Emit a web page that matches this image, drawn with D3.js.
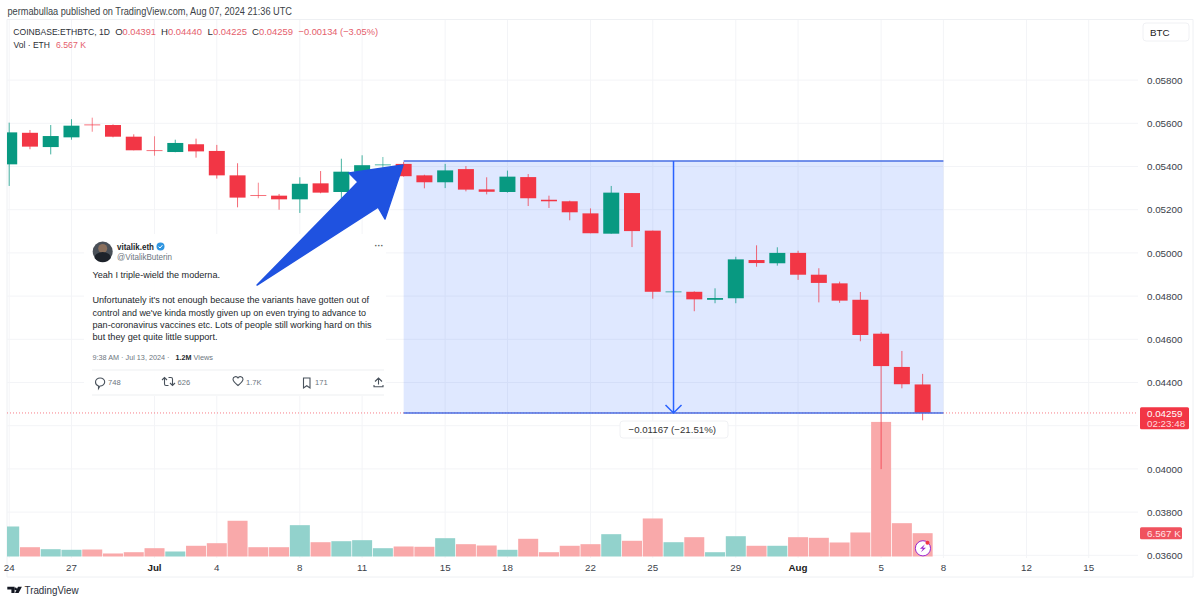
<!DOCTYPE html>
<html><head><meta charset="utf-8">
<script src="https://cdn.jsdelivr.net/npm/d3@7"></script>
<style>
html,body{margin:0;padding:0;background:#fff;overflow:hidden}
svg{display:block}
text{font-family:"Liberation Sans",Arimo,sans-serif}
</style></head><body>
<svg id="c" width="1200" height="603"></svg>
<script>
// ---- data: one entry per daily candle, starting 24 Jun 2024 (prices in BTC)
const startDate = "2024-06-24";
const opens  = [.05410,.05556,.05490,.05535,.05595,.05592,.05538,.05476,.05467,.05503,.05472,.05359,.05268,.05265,.05248,.05322,.05282,.05375,.05406,.05412,.05359,.05327,.05388,.05294,.05282,.05351,.05246,.05239,.05183,.05089,.05277,.05103,.04820,.04820,.04783,.04790,.04967,.04952,.05000,.04899,.04859,.04783,.04626,.04472,.04391];
const highs  = [.05603,.05569,.05592,.05619,.05626,.05595,.05549,.05540,.05524,.05529,.05500,.05415,.05325,.05273,.05350,.05379,.05436,.05452,.05444,.05421,.05362,.05412,.05402,.05350,.05381,.05365,.05265,.05242,.05206,.05310,.05277,.05103,.04823,.04822,.04836,.04982,.05035,.05026,.05010,.04929,.04867,.04819,.04634,.04546,.04440];
const lows   = [.05310,.05480,.05456,.05524,.05561,.05535,.05475,.05450,.05466,.05441,.05344,.05211,.05253,.05200,.05185,.05276,.05245,.05337,.05361,.05353,.05299,.05300,.05285,.05271,.05279,.05217,.05208,.05151,.05091,.05089,.05027,.04788,.04820,.04730,.04767,.04767,.04936,.04941,.04875,.04771,.04769,.04591,.03999,.04373,.04225];
const closes = [.05558,.05492,.05541,.05589,.05593,.05538,.05475,.05475,.05509,.05470,.05359,.05256,.05266,.05248,.05320,.05279,.05376,.05406,.05410,.05355,.05327,.05382,.05293,.05283,.05353,.05253,.05239,.05188,.05091,.05279,.05101,.04820,.04822,.04785,.04791,.04970,.04953,.05000,.04899,.04861,.04779,.04620,.04476,.04392,.04259];
const volumes= [8.46,2.62,2.06,1.89,1.97,0.85,1.21,2.34,1.41,3.02,3.75,10.07,2.62,2.62,8.83,4.03,4.31,4.60,2.34,2.82,2.74,5.16,3.47,3.10,1.89,4.99,1.21,3.02,3.47,6.29,4.43,10.72,4.03,5.44,1.21,5.72,3.02,3.02,5.44,5.27,3.95,6.77,37.93,9.39,6.567];
const priceTicks = [.058,.056,.054,.052,.05,.048,.046,.044,.042,.04,.038,.036];
const priceTickLabels = ["0.05800","0.05600","0.05400","0.05200","0.05000","0.04800","0.04600","0.04400",null,"0.04000","0.03800","0.03600"];
const dayTicks = [0,3,7,10,14,17,21,24,28,31,35,38,42,45,49,52];
const dayLabels = ["24","27","Jul","4","8","11","15","18","22","25","29","Aug","5","8","12","15"];
const measure = {fromDay:19, toDay:45, top:.05426, bottom:.04259, text:"−0.01167 (−21.51%)"};
const arrowDays   = [11.94,16.80,16.37,18.97,18.10,17.77];
const arrowPrices = [.04851,.05328,.05370,.05407,.05157,.05212];

const svg = d3.select("#c");
const green="#089981", red="#f23645", blue="#2962ff";
const x = d3.scaleLinear().domain([0,1]).range([9.2,29.96]);
const y = d3.scaleLinear().domain([.054,.052]).range([166.5,209.7]);
const v = d3.scaleLinear().domain([0,6.567]).range([556.5,533.2]);
const W=1138, B=558;

svg.append("defs").append("clipPath").attr("id","plot").append("rect").attr("x",7).attr("y",20).attr("width",W-7).attr("height",B-20);

// frame
const frame = svg.append("g").attr("stroke","#eef0f3").attr("fill","none");
frame.append("path").attr("d",`M7,19.5H1193V577H7Z`);

// grid
const grid = svg.append("g").attr("stroke","#f3f4f7").attr("stroke-width",1);
grid.selectAll("line.h").data(priceTicks).join("line").attr("x1",7).attr("x2",W)
  .attr("y1",d=>y(d)).attr("y2",d=>y(d));
grid.selectAll("line.v").data(dayTicks.filter(d=>x(d)<W)).join("line").attr("y1",20).attr("y2",B)
  .attr("x1",d=>x(d)).attr("x2",d=>x(d));

// price axis
svg.append("g").selectAll("text").data(priceTicks.map((t,i)=>({t,l:priceTickLabels[i]})).filter(d=>d.l))
  .join("text").attr("x",1147).attr("y",d=>y(d.t)+3.6).attr("font-size",9.8).attr("fill","#3a3e49").text(d=>d.l);
// time axis
svg.append("g").selectAll("text").data(dayTicks.map((t,i)=>({t,l:dayLabels[i]})))
  .join("text").attr("x",d=>x(d.t)).attr("y",571).attr("text-anchor","middle").attr("font-size",9.8)
  .attr("font-weight",d=>/[A-Z]/.test(d.l)?700:400).attr("fill",d=>/[A-Z]/.test(d.l)?"#222":"#3a3e49").text(d=>d.l);

const plot = svg.append("g").attr("clip-path","url(#plot)");
const idx = d3.range(opens.length);
const up = i=>closes[i]>=opens[i];

// measure band
plot.append("rect").attr("x",x(measure.fromDay)).attr("width",x(measure.toDay)-x(measure.fromDay))
  .attr("y",y(measure.top)).attr("height",y(measure.bottom)-y(measure.top)).attr("fill","#2962ff").attr("fill-opacity",.15);

// volume
plot.append("g").selectAll("rect").data(idx).join("rect")
  .attr("x",i=>x(i)-10).attr("width",20)
  .attr("y",i=>v(volumes[i])).attr("height",i=>v(0)-v(volumes[i]))
  .attr("fill",i=>up(i)?"#92d2cc":"#f9a9aa");

// last price line
svg.append("line").attr("x1",7).attr("x2",W).attr("y1",y(closes[44])).attr("y2",y(closes[44]))
  .attr("stroke",red).attr("stroke-opacity",.65).attr("stroke-dasharray","1 2");

// candles
const dojiBody = i=>Math.abs(y(opens[i])-y(closes[i]))<1;
plot.append("g").selectAll("line").data(idx).join("line")
  .attr("x1",i=>x(i)).attr("x2",i=>x(i)).attr("y1",i=>y(highs[i])).attr("y2",i=>y(lows[i]))
  .attr("stroke",i=>up(i)?green:red).attr("stroke-width",1).attr("stroke-opacity",i=>dojiBody(i)?.6:.75);
plot.append("g").selectAll("rect").data(idx).join("rect")
  .attr("x",i=>x(i)-8).attr("width",16)
  .attr("y",i=>y(Math.max(opens[i],closes[i])))
  .attr("height",i=>Math.max(1,Math.abs(y(opens[i])-y(closes[i]))))
  .attr("fill",i=>up(i)?green:red).attr("fill-opacity",i=>dojiBody(i)?.7:1);

// measure lines
const m = svg.append("g").attr("stroke",blue).attr("fill","none");
const mx0=x(measure.fromDay), mx1=x(measure.toDay), mMid=x((measure.fromDay+measure.toDay)/2), mT=y(measure.top), mB=y(measure.bottom);
m.append("path").attr("d",`M${mx0},${mT}H${mx1}M${mx0},${mB}H${mx1}`).attr("stroke-width",1.5).attr("stroke","#4a6fe3");
m.append("path").attr("d",`M${mMid},${mT}V${mB}M${mMid-8},${mB-8}L${mMid},${mB}L${mMid+8},${mB-8}`).attr("stroke-width",1.5);

// tweet card
const T = svg.append("g");
T.append("rect").attr("x",84).attr("y",234).attr("width",302).attr("height",162).attr("fill","#fff").attr("fill-opacity",.92);
T.append("circle").attr("cx",102.7).attr("cy",251.5).attr("r",10).attr("fill","#4a5058");
T.append("circle").attr("cx",102.7).attr("cy",248.5).attr("r",4.5).attr("fill","#8a6f5c");
T.append("path").attr("d","M94.5,258a8.2,6 0 0 1 16.4,0a10,10 0 0 1 -16.4,0Z").attr("fill","#1d222a");
const fit=(e,len)=>e.attr("textLength",len).attr("lengthAdjust","spacingAndGlyphs");
const tt=(x0,y0,s,o={})=>{const e=T.append("text").attr("x",x0).attr("y",y0).attr("font-size",o.size||8.8)
  .attr("font-weight",o.w||400).attr("fill",o.c||"#23272c").attr("text-anchor",o.a||"start").text(s);
  if(o.len)fit(e,o.len);return e;};
tt(117,250,"vitalik.eth",{w:700,size:8.8,len:37});
T.append("circle").attr("cx",160.5).attr("cy",246.5).attr("r",4).attr("fill","#2f95e0");
T.append("path").attr("d","M158.6,246.6l1.4,1.4l2.4,-2.8").attr("stroke","#fff").attr("fill","none");
tt(117,260,"@VitalikButerin",{c:"#6d7680",size:8.4,len:55});
tt(379,248.5,"···",{c:"#555",a:"middle",w:700,size:9});
const lines=[[278,"Yeah I triple-wield the moderna.",127.5],[303,"Unfortunately it's not enough because the variants have gotten out of",276.5],[315.5,"control and we've kinda mostly given up on even trying to advance to",273.5],[328,"pan-coronavirus vaccines etc. Lots of people still working hard on this",279],[340,"but they get quite little support.",125]];
lines.forEach(l=>tt(92.5,l[0],l[1],{len:l[2]}));
tt(92.5,360,"9:38 AM · Jul 13, 2024 ·",{c:"#6d7680",size:8,len:77});
tt(175.5,360,"1.2M",{w:700,size:8,len:16});
tt(193.5,360,"Views",{c:"#6d7680",size:8,len:19.5});
T.append("path").attr("d","M92,370H384M92,395H384").attr("stroke","#edeff1").attr("fill","none");
const ic=T.append("g").attr("fill","none").attr("stroke","#49525c").attr("stroke-width",1.1);
ic.append("path").attr("d","M95.5,382a4.6,4 0 1 1 4.5,4l-1.5,2.5v-2.6a4.5,4 0 0 1 -3,-3.9Z");
ic.append("path").attr("d","M162,380l2.5,-2.5l2.5,2.5M164.5,378v6a1.5,1.5 0 0 0 1.5,1.5h2.5M168.5,377.5h2.5a1.5,1.5 0 0 1 1.5,1.5v6M170,383l2.5,2.5l2.5,-2.5");
ic.append("path").attr("d","M238,385.5c-3,-2.5 -5,-4 -5,-6.2a2.7,2.7 0 0 1 5,-1.4a2.7,2.7 0 0 1 5,1.4c0,2.2 -2,3.7 -5,6.2Z");
ic.append("path").attr("d","M303.5,378h6.5v10l-3.25,-2.3l-3.25,2.3Z");
ic.append("path").attr("d","M375,381.5l3.5,-3.5l3.5,3.5M378.5,378v6.5M374,385v1.8h9v-1.8");
[[108,"748"],[177.5,"626"],[246,"1.7K"],[315,"171"]].forEach(d=>tt(d[0],385,d[1],{c:"#6d7680",size:7.6}));

// hand-drawn arrow, anchored in chart space
const arrowLine = d3.line().x(d=>x(d)).y((d,i)=>y(arrowPrices[i]));
svg.append("path").attr("d",arrowLine(arrowDays)+"Z").attr("fill","#1f52e0").attr("stroke","#1f52e0").attr("stroke-width",1.5).attr("stroke-linejoin","round");

// measure label
svg.append("rect").attr("x",620).attr("y",421).attr("width",108).attr("height",17).attr("rx",3).attr("fill","#fff")
  .attr("stroke","#f0f1f4");
svg.append("text").attr("x",628.5).attr("y",432.7).attr("font-size",9.8).attr("fill","#333").attr("textLength",87.5).attr("lengthAdjust","spacingAndGlyphs").text(measure.text);

// header
const hd=(x0,y0,s,c,len,fs)=>{const e=svg.append("text").attr("x",x0).attr("y",y0).attr("font-size",fs||9.6).attr("fill",c).text(s);if(len)fit(e,len);return e;};
hd(7.5,15,"permabullaa published on TradingView.com, Aug 07, 2024 21:36 UTC","#3b3f46",284.5,10);
const rs="#e5606c", dk="#2c2f36";
hd(13.3,34.5,"COINBASE:ETHBTC, 1D",dk,96.7,8.4);
hd(115.3,34.5,"O",dk); hd(122.5,34.5,"0.04391",rs,33.5);
hd(161,34.5,"H",dk); hd(168,34.5,"0.04440",rs,34);
hd(207.5,34.5,"L",dk); hd(213,34.5,"0.04225",rs,34);
hd(252,34.5,"C",dk); hd(259,34.5,"0.04259",rs,34);
hd(298.5,34.5,"−0.00134 (−3.05%)",rs,79.5);
hd(13.5,47.5,"Vol · ETH",dk,36.5); hd(56,47.5,"6.567 K",rs,30);

// BTC button
svg.append("rect").attr("x",1143).attr("y",23).attr("width",46).attr("height",18).attr("rx",3).attr("fill","#fff").attr("stroke","#f0f1f4");
svg.append("text").attr("x",1150).attr("y",35.5).attr("font-size",9.8).attr("font-weight",500).attr("fill","#222").text("BTC");

// price tags
svg.append("rect").attr("x",1140).attr("y",407.3).attr("width",49).attr("height",22).attr("rx",1.5).attr("fill",red);
svg.append("text").attr("x",1147).attr("y",416.5).attr("font-size",9.8).attr("fill","#fff").text("0.04259");
svg.append("text").attr("x",1147).attr("y",427).attr("font-size",9.8).attr("fill","#ffd9dd").text("02:23:48");
svg.append("rect").attr("x",1140).attr("y",527.3).attr("width",42).attr("height",12).attr("rx",1.5).attr("fill","#f0525e");
svg.append("text").attr("x",1147).attr("y",537).attr("font-size",9.8).attr("fill","#ffe3e5").text("6.567 K");

// bolt badge
const bx=x(44)+.3, by=548.3;
svg.append("circle").attr("cx",bx).attr("cy",by).attr("r",7.6).attr("fill","#fff").attr("stroke","#9c27d0").attr("stroke-width",1);
svg.append("path").attr("d",`M${bx+2},${by-4}L${bx-3},${by+.5}H${bx}L${bx-2},${by+4}L${bx+3},${by-.5}H${bx}Z`).attr("fill","#9c27d0");
svg.append("circle").attr("cx",bx+4.5).attr("cy",by-5.6).attr("r",2).attr("fill",red);

// logo
svg.append("path").attr("d","M7.3,586.7H14.6V593H11.4V589.6H7.3ZM15.6,587.6a1.3,1.3 0 1 0 0.01,0ZM18,586.7H21.9L18.6,593H15Z").attr("fill","#131722");
fit(svg.append("text").attr("x",24.5).attr("y",593.8).attr("font-size",10.7).attr("fill","#2a2e39").text("TradingView"),54);
</script></body></html>
